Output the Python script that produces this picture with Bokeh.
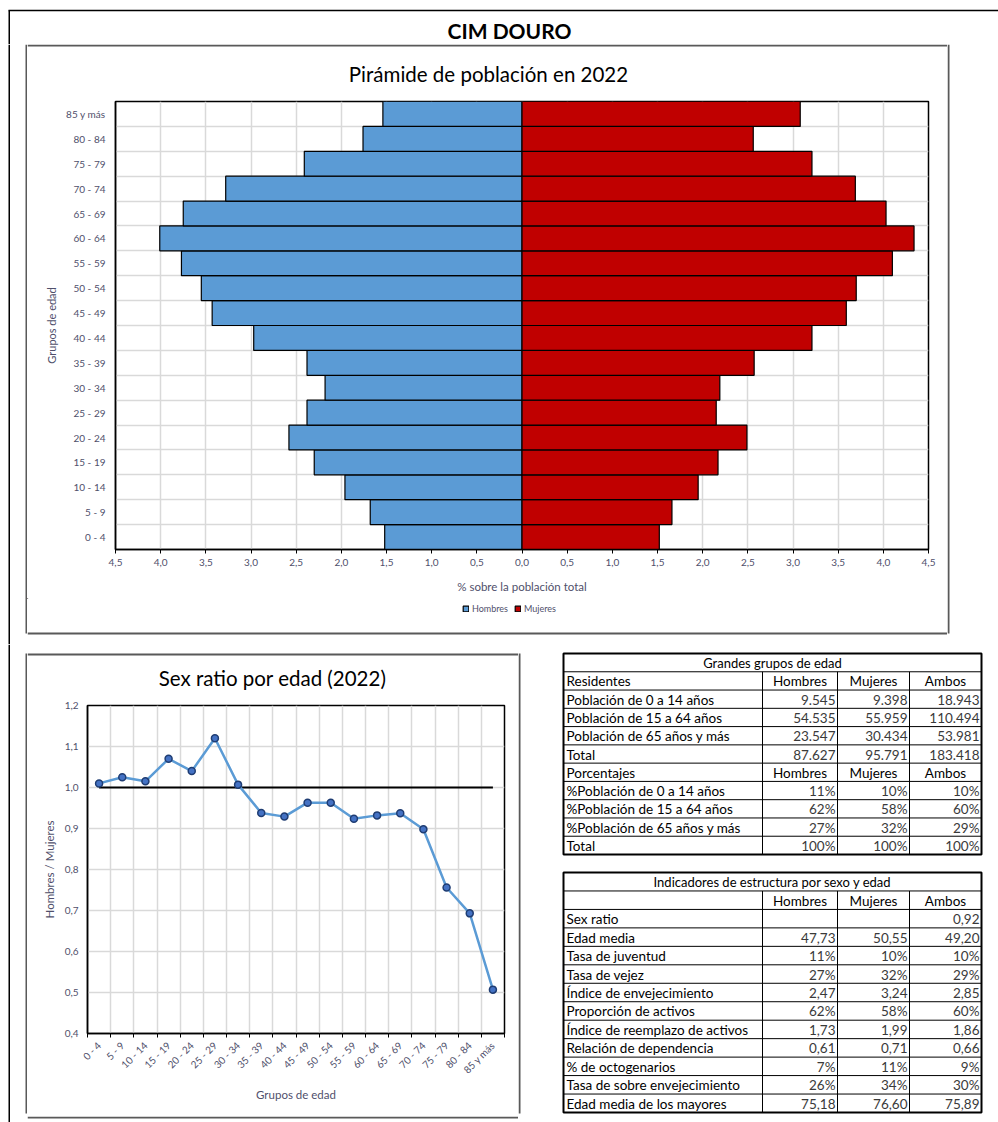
from math import pi
from bokeh.plotting import figure
from bokeh.layouts import column, row
from bokeh.models import (Range1d, FixedTicker, CustomJSTickFormatter,
                          Legend, LegendItem, ColumnDataSource, Label)
from bokeh.embed import file_html
from bokeh.resources import INLINE
from bokeh.core.properties import value

# ---------------- data ----------------
titulo_general = "CIM DOURO"
titulo_piramide = "Pirámide de población en 2022"
titulo_ratio = "Sex ratio por edad (2022)"

grupos = ["0 - 4", "5 - 9", "10 - 14", "15 - 19", "20 - 24", "25 - 29", "30 - 34",
          "35 - 39", "40 - 44", "45 - 49", "50 - 54", "55 - 59", "60 - 64", "65 - 69",
          "70 - 74", "75 - 79", "80 - 84", "85 y más"]
hombres_pct = [1.52, 1.68, 1.96, 2.30, 2.58, 2.38, 2.18, 2.38, 2.97, 3.43, 3.55, 3.77,
               4.01, 3.75, 3.28, 2.41, 1.76, 1.54]
mujeres_pct = [1.52, 1.66, 1.95, 2.17, 2.49, 2.15, 2.19, 2.57, 3.21, 3.59, 3.70, 4.10,
               4.34, 4.03, 3.69, 3.21, 2.56, 3.08]
sex_ratio = [1.010, 1.025, 1.015, 1.070, 1.040, 1.120, 1.007, 0.938, 0.929, 0.963,
             0.963, 0.924, 0.932, 0.937, 0.898, 0.756, 0.693, 0.507]
paridad = [1.0, 1.0, 1.0, 1.0, 1.0, 1.0, 1.0, 1.0, 1.0, 1.0, 1.0, 1.0, 1.0, 1.0, 1.0,
           1.0, 1.0, 1.0]
ticks_pct = [-4.5, -4.0, -3.5, -3.0, -2.5, -2.0, -1.5, -1.0, -0.5, 0.0,
             0.5, 1.0, 1.5, 2.0, 2.5, 3.0, 3.5, 4.0, 4.5]
ticks_ratio = [0.4, 0.5, 0.6, 0.7, 0.8, 0.9, 1.0, 1.1, 1.2]
leyenda = ["Hombres", "Mujeres"]

tabla1_titulo = "Grandes grupos de edad"
tabla1_filas = ["Residentes", "Población de 0 a 14 años", "Población de 15 a 64 años",
                "Población de 65 años y más", "Total", "Porcentajes",
                "%Población de 0 a 14 años", "%Población de 15 a 64 años",
                "%Población de 65 años y más", "Total"]
tabla1_hombres = ["Hombres", "9.545", "54.535", "23.547", "87.627", "Hombres", "11%", "62%", "27%", "100%"]
tabla1_mujeres = ["Mujeres", "9.398", "55.959", "30.434", "95.791", "Mujeres", "10%", "58%", "32%", "100%"]
tabla1_ambos = ["Ambos", "18.943", "110.494", "53.981", "183.418", "Ambos", "10%", "60%", "29%", "100%"]
tabla1_cabeceras = [0, 5]

tabla2_titulo = "Indicadores de estructura por sexo y edad"
tabla2_filas = ["", "Sex ratio", "Edad media", "Tasa de juventud", "Tasa de vejez",
                "Índice de envejecimiento", "Proporción de activos",
                "Índice de reemplazo de activos", "Relación de dependencia",
                "% de octogenarios", "Tasa de sobre envejecimiento",
                "Edad media de los mayores"]
tabla2_hombres = ["Hombres", "", "47,73", "11%", "27%", "2,47", "62%", "1,73", "0,61", "7%", "26%", "75,18"]
tabla2_mujeres = ["Mujeres", "", "50,55", "10%", "32%", "3,24", "58%", "1,99", "0,71", "11%", "34%", "76,60"]
tabla2_ambos = ["Ambos", "0,92", "49,20", "10%", "29%", "2,85", "60%", "1,86", "0,66", "9%", "30%", "75,89"]
tabla2_cabeceras = [0]

# ---------------- style ----------------
FONT = "Lato"
AXC = "#4f4f6b"
AZUL = "#5B9BD5"
ROJO = "#C00000"
GRID = "#d9d9d9"
PANEL = "#595959"
FRAME_W = 1.5
PANEL_W = 2
TICK_FS = "10px"


def blank(w, h):
    f = figure(width=w, height=h, x_range=Range1d(0, w), y_range=Range1d(h, 0),
               min_border=0, toolbar_location=None, output_backend="svg",
               x_axis_location=None, y_axis_location=None, outline_line_color=None,
               frame_align=False)
    f.grid.visible = False
    return f


def vline(f, x, y0, y1, color, width):
    f.segment(x0=[x], y0=[y0], x1=[x], y1=[y1], line_color=color, line_width=width)


def hline(f, y, x0, x1, color, width):
    f.segment(x0=[x0], y0=[y], x1=[x1], y1=[y], line_color=color, line_width=width)


def style_axis(ax, size):
    ax.axis_line_color = "black"
    ax.axis_line_width = 1.5
    ax.major_label_text_font = FONT
    ax.major_label_text_font_size = size
    ax.major_label_text_color = AXC
    ax.axis_label_text_font = FONT
    ax.axis_label_text_font_style = "normal"
    ax.axis_label_text_color = AXC


# ---------------- header (y 0..44) ----------------
PW = 998
hdr = blank(PW, 44)
hline(hdr, 10, 8, PW, "black", FRAME_W)
vline(hdr, 8.75, 10, 44, "black", FRAME_W)
hdr.add_layout(Label(x=509, y=30, text=titulo_general, text_align="center", text_baseline="middle",
                     text_font=FONT, text_font_size="21px", text_font_style="bold", text_color="black"))

# ---------------- pyramid block (y 44..644) ----------------
CW = 920
pl = blank(27, 600)
vline(pl, 8.75, 0, 600, "black", FRAME_W)
vline(pl, 26, 0, 589, PANEL, PANEL_W)
pr = blank(51, 600)
vline(pr, 1, 0, 589, PANEL, PANEL_W)

ptop = blank(CW, 49)
hline(ptop, 1, 0, CW, PANEL, PANEL_W)
ptop.add_layout(Label(x=461, y=29, text=titulo_piramide, text_align="center", text_baseline="middle",
                      text_font=FONT, text_font_size="20.5px", text_color="black"))

pyr = figure(width=CW, height=505, x_range=Range1d(-4.5, 4.5), y_range=Range1d(0, 18),
             min_border_left=88, min_border_right=19, min_border_top=8, min_border_bottom=49,
             toolbar_location=None, output_backend="svg", frame_align=False,
             outline_line_color="black", outline_line_width=1.5)
centros = [i + 0.5 for i in range(len(grupos))]
limites = list(range(len(grupos) + 1))
src = ColumnDataSource(dict(y=centros, h=[-v for v in hombres_pct], m=mujeres_pct))
pyr.hbar(y="y", left="h", right=0, height=1, source=src, fill_color=AZUL,
         line_color="black", line_width=1.2)
pyr.hbar(y="y", left=0, right="m", height=1, source=src, fill_color=ROJO,
         line_color="black", line_width=1.2)

fmt_grupos = CustomJSTickFormatter(args=dict(labels=grupos), code="return labels[Math.floor(tick)] || '';")
pyr.yaxis.ticker = FixedTicker(ticks=centros)
pyr.yaxis.formatter = fmt_grupos
pyr.ygrid.ticker = FixedTicker(ticks=limites)
pyr.xaxis.ticker = FixedTicker(ticks=ticks_pct)
pyr.xgrid.ticker = FixedTicker(ticks=ticks_pct)
pyr.xaxis.formatter = CustomJSTickFormatter(code="return Math.abs(tick).toFixed(1).replace('.', ',');")
pyr.grid.grid_line_color = GRID
pyr.grid.grid_line_width = 1.5
for ax in pyr.axis:
    style_axis(ax, TICK_FS)
pyr.yaxis.major_tick_out = 0
pyr.yaxis.major_tick_in = 0
pyr.yaxis.minor_tick_out = 0
pyr.yaxis.major_label_standoff = 10
pyr.yaxis.axis_label = "Grupos de edad"
pyr.yaxis.axis_label_text_font_size = "11px"
pyr.yaxis.axis_label_standoff = 5
pyr.xaxis.major_tick_out = 4
pyr.xaxis.major_tick_in = 0
pyr.xaxis.minor_tick_out = 0
pyr.xaxis.major_tick_line_color = "black"
pyr.xaxis.major_label_standoff = 5
pyr.xaxis.axis_label = "% sobre la población total"
pyr.xaxis.axis_label_text_font_size = "11.5px"
pyr.xaxis.axis_label_standoff = 11

pbot = blank(CW, 46)
hline(pbot, 35, 0, CW, PANEL, PANEL_W)
# off-screen legend proxies (same styles as the bars)
lh = pbot.hbar(y=[-50], left=[-50], right=[-40], height=1, fill_color=AZUL, line_color="black", line_width=1.2)
lm = pbot.hbar(y=[-50], left=[-50], right=[-40], height=1, fill_color=ROJO, line_color="black", line_width=1.2)
leg = Legend(items=[LegendItem(label=leyenda[0], renderers=[lh]), LegendItem(label=leyenda[1], renderers=[lm])],
             orientation="horizontal", location=(435, 30), glyph_width=7, glyph_height=7,
             label_text_font=FONT, label_text_font_size="9px", label_text_color=AXC,
             border_line_color=None, background_fill_alpha=0, spacing=6, padding=0,
             margin=0, label_standoff=3, label_height=8)
pbot.add_layout(leg)

pyr_block = row(pl, column(ptop, pyr, pbot, spacing=0), pr, spacing=0)

# ---------------- sex ratio block (y 644..1122) ----------------
SW = 491
sl = blank(27, 478)
vline(sl, 8.75, 0, 478, "black", FRAME_W)
vline(sl, 26, 9, 469, PANEL, PANEL_W)
srr = blank(22, 478)
vline(srr, 1, 9, 469, PANEL, PANEL_W)

stop = blank(SW, 51)
hline(stop, 10, 0, SW, PANEL, PANEL_W)
stop.add_layout(Label(x=245, y=33, text=titulo_ratio, text_align="center", text_baseline="middle",
                      text_font=FONT, text_font_size="20.5px", text_color="black"))

sr = figure(width=SW, height=418, x_range=Range1d(0, 18), y_range=Range1d(0.4, 1.2),
            min_border_left=60, min_border_right=14, min_border_top=10, min_border_bottom=80,
            toolbar_location=None, output_backend="svg", frame_align=False,
            outline_line_color="black", outline_line_width=1.5)
sr.xaxis.ticker = FixedTicker(ticks=centros, minor_ticks=limites)
sr.xaxis.formatter = fmt_grupos
sr.xgrid.ticker = FixedTicker(ticks=limites)
sr.yaxis.ticker = FixedTicker(ticks=ticks_ratio)
sr.ygrid.ticker = FixedTicker(ticks=ticks_ratio)
sr.yaxis.formatter = CustomJSTickFormatter(code="return tick.toFixed(1).replace('.', ',');")
sr.grid.grid_line_color = GRID
sr.grid.grid_line_width = 1.5
for ax in sr.axis:
    style_axis(ax, TICK_FS)
sr.xaxis.major_tick_out = 0
sr.xaxis.major_tick_in = 0
sr.xaxis.minor_tick_out = 4
sr.xaxis.minor_tick_in = 0
sr.xaxis.minor_tick_line_color = "black"
sr.xaxis.major_label_orientation = pi / 4
sr.xaxis.major_label_standoff = 6
sr.xaxis.axis_label = "Grupos de edad"
sr.xaxis.axis_label_text_font_size = "11.5px"
sr.xaxis.axis_label_standoff = 5
sr.yaxis.major_tick_out = 0
sr.yaxis.major_tick_in = 0
sr.yaxis.minor_tick_out = 0
sr.yaxis.major_label_standoff = 9
sr.yaxis.axis_label = "Hombres / Mujeres"
sr.yaxis.axis_label_text_font_size = "11.5px"
sr.yaxis.axis_label_standoff = 6
sr.line(x=centros, y=paridad, line_color="black", line_width=2)
sr.line(x=centros, y=sex_ratio, line_color=AZUL, line_width=2.5)
sr.scatter(x=centros, y=sex_ratio, size=7, fill_color="#4472C4", line_color="#1f3d73", line_width=1.5)

sbot = blank(SW, 9)
hline(sbot, 1, 0, SW, PANEL, PANEL_W)

# ---------------- tables ----------------
TW, TH = 458, 478
tb = blank(TW, TH)
cols = [23, 222, 297, 369, 441]


def tabla(top, bottom, titulo, filas, hs, ms, ams, cabeceras):
    n = len(filas) + 1
    h = (bottom - top) / n
    xs0, ys0, xs1, ys1 = [], [], [], []
    for i in range(1, n):
        y = top + i * h
        xs0.append(cols[0]); xs1.append(cols[-1]); ys0.append(y); ys1.append(y)
    for c in cols[1:-1]:
        xs0.append(c); xs1.append(c); ys0.append(top + h); ys1.append(bottom)
    tb.segment(x0=xs0, y0=ys0, x1=xs1, y1=ys1, line_color="black", line_width=1)
    tb.quad(left=[cols[0]], right=[cols[-1]], top=[top], bottom=[bottom], fill_color=None,
            line_color="black", line_width=2)
    tb.text(x=[(cols[0] + cols[-1]) / 2], y=[top + h / 2 + 0.5], text=[titulo], text_align="center",
            text_baseline="middle", text_font=value(FONT), text_font_size="13px", text_color="black")
    lx, ly, lt = [], [], []
    cx, cy, ct = [], [], []
    rx, ry, rt = [], [], []
    for i, lab in enumerate(filas):
        yc = top + (i + 1.5) * h + 0.5
        lx.append(cols[0] + 3); ly.append(yc); lt.append(lab)
        vals = [hs[i], ms[i], ams[i]]
        for j, v in enumerate(vals):
            if i in cabeceras:
                cx.append((cols[j + 1] + cols[j + 2]) / 2); cy.append(yc); ct.append(v)
            else:
                rx.append(cols[j + 2] - 2); ry.append(yc); rt.append(v)
    kw = dict(text_baseline="middle", text_font=value(FONT), text_font_size="13.5px")
    tb.text(x=lx, y=ly, text=lt, text_align="left", text_color="black", **kw)
    tb.text(x=cx, y=cy, text=ct, text_align="center", text_color="black", **kw)
    tb.text(x=rx, y=ry, text=rt, text_align="right", text_color="#3a3a3a", **kw)


tabla(9, 210, tabla1_titulo, tabla1_filas, tabla1_hombres, tabla1_mujeres, tabla1_ambos, tabla1_cabeceras)
tabla(228, 468, tabla2_titulo, tabla2_filas, tabla2_hombres, tabla2_mujeres, tabla2_ambos, tabla2_cabeceras)

low_block = row(sl, column(stop, sr, sbot, spacing=0), srr, tb, spacing=0)

layout = column(hdr, pyr_block, low_block, spacing=0)
open("out.html", "w").write(file_html(layout, INLINE))
